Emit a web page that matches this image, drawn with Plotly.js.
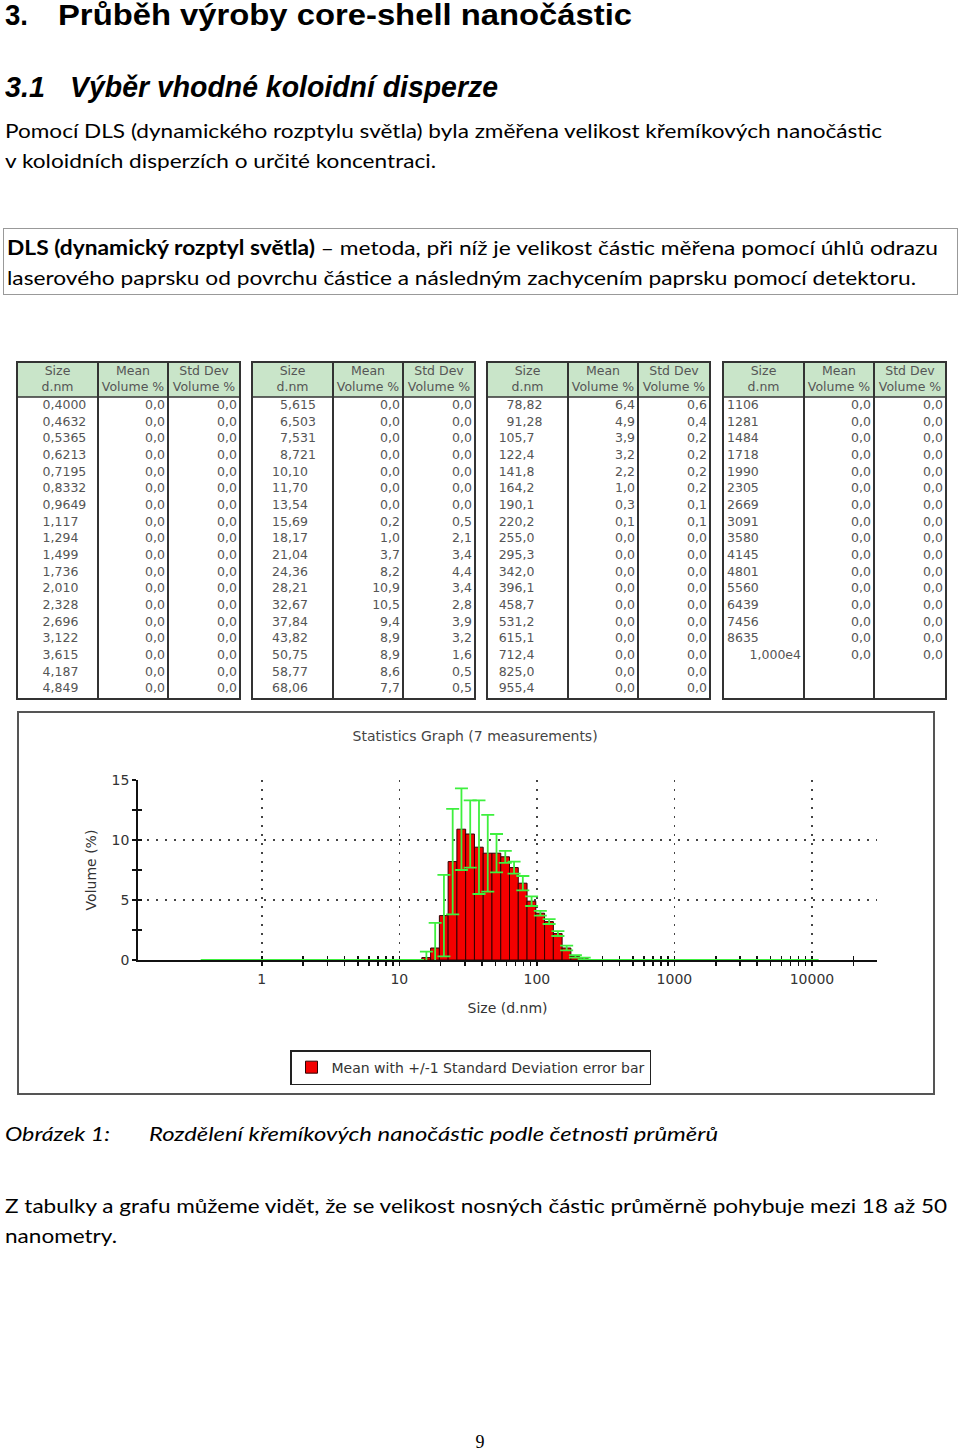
<!DOCTYPE html>
<html><head><meta charset="utf-8">
<script src="https://cdn.plot.ly/plotly-3.0.1.min.js"></script>
<style>
html,body{margin:0;padding:0;background:#fff;}
#page{position:relative;width:960px;height:1454px;overflow:hidden;background:#fff;}
.t{position:absolute;white-space:nowrap;transform-origin:0 50%;color:#000;}
.h1{font-family:"Liberation Sans",Arial,sans-serif;font-weight:bold;font-size:29px;line-height:29px;}
.h2{font-family:"Liberation Sans",Arial,sans-serif;font-weight:bold;font-style:italic;font-size:30px;line-height:30px;}
.p{font-family:Lato,"Open Sans",sans-serif;font-size:20px;line-height:20px;}
.pi{font-family:Lato,"Open Sans",sans-serif;font-size:20px;line-height:20px;font-style:italic;}
#box{position:absolute;left:3px;top:228px;width:953px;height:65px;border:1px solid #999;}
#pg{position:absolute;left:440px;width:80px;top:1433px;text-align:center;font-family:"Liberation Serif",serif;font-size:18px;line-height:18px;}
#table{position:absolute;left:0;top:358px;width:960px;height:346px;}
#chart{position:absolute;left:17px;top:711px;width:914px;height:380px;border:2px solid #555;}
</style></head>
<body><div id="page">
<span class="t h1" style="left:5px;top:1px" data-w="23">3.</span>
<span class="t h1" style="left:58px;top:1px" data-w="574">Průběh výroby core-shell nanočástic</span>
<span class="t h2" style="left:5px;top:72px" data-w="40">3.1</span>
<span class="t h2" style="left:70px;top:72px" data-w="428">Výběr vhodné koloidní disperze</span>
<span class="t p" style="left:5px;top:120px" data-w="877">Pomocí DLS (dynamického rozptylu světla) byla změřena velikost křemíkových nanočástic</span>
<span class="t p" style="left:5px;top:150px" data-w="431">v koloidních disperzích o určité koncentraci.</span>
<div id="box"></div>
<span class="t p" style="left:7px;top:237px" data-w="931"><b>DLS (dynamický rozptyl světla)</b> – metoda, při níž je velikost částic měřena pomocí úhlů odrazu</span>
<span class="t p" style="left:7px;top:267px" data-w="909">laserového paprsku od povrchu částice a následným zachycením paprsku pomocí detektoru.</span>
<div id="table"></div>
<div id="chart"></div>
<span class="t pi" style="left:5px;top:1123px" data-w="105">Obrázek 1:</span>
<span class="t pi" style="left:149px;top:1123px" data-w="569">Rozdělení křemíkových nanočástic podle četnosti průměrů</span>
<span class="t p" style="left:5px;top:1195px" data-w="942">Z tabulky a grafu můžeme vidět, že se velikost nosných částic průměrně pohybuje mezi 18 až 50</span>
<span class="t p" style="left:5px;top:1225px" data-w="112">nanometry.</span>
<div id="pg">9</div>
</div>
<script>
// ---------------- data ----------------
const sizes = [
  0.4000, 0.4632, 0.5365, 0.6213, 0.7195, 0.8332, 0.9649, 1.117, 1.294, 1.499, 1.736, 2.010, 2.328, 2.696, 3.122, 3.615, 4.187, 4.849,
  5.615, 6.503, 7.531, 8.721, 10.10, 11.70, 13.54, 15.69, 18.17, 21.04, 24.36, 28.21, 32.67, 37.84, 43.82, 50.75, 58.77, 68.06,
  78.82, 91.28, 105.7, 122.4, 141.8, 164.2, 190.1, 220.2, 255.0, 295.3, 342.0, 396.1, 458.7, 531.2, 615.1, 712.4, 825.0, 955.4,
  1106, 1281, 1484, 1718, 1990, 2305, 2669, 3091, 3580, 4145, 4801, 5560, 6439, 7456, 8635, 10000
];
const meanVolume = [
  0.0, 0.0, 0.0, 0.0, 0.0, 0.0, 0.0, 0.0, 0.0, 0.0, 0.0, 0.0, 0.0, 0.0, 0.0, 0.0, 0.0, 0.0,
  0.0, 0.0, 0.0, 0.0, 0.0, 0.0, 0.0, 0.2, 1.0, 3.7, 8.2, 10.9, 10.5, 9.4, 8.9, 8.9, 8.6, 7.7,
  6.4, 4.9, 3.9, 3.2, 2.2, 1.0, 0.3, 0.1, 0.0, 0.0, 0.0, 0.0, 0.0, 0.0, 0.0, 0.0, 0.0, 0.0,
  0.0, 0.0, 0.0, 0.0, 0.0, 0.0, 0.0, 0.0, 0.0, 0.0, 0.0, 0.0, 0.0, 0.0, 0.0, 0.0
];
const sdVolume = [
  0.0, 0.0, 0.0, 0.0, 0.0, 0.0, 0.0, 0.0, 0.0, 0.0, 0.0, 0.0, 0.0, 0.0, 0.0, 0.0, 0.0, 0.0,
  0.0, 0.0, 0.0, 0.0, 0.0, 0.0, 0.0, 0.5, 2.1, 3.4, 4.4, 3.4, 2.8, 3.9, 3.2, 1.6, 0.5, 0.5,
  0.6, 0.4, 0.2, 0.2, 0.2, 0.2, 0.1, 0.1, 0.0, 0.0, 0.0, 0.0, 0.0, 0.0, 0.0, 0.0, 0.0, 0.0,
  0.0, 0.0, 0.0, 0.0, 0.0, 0.0, 0.0, 0.0, 0.0, 0.0, 0.0, 0.0, 0.0, 0.0, 0.0, 0.0
];
const headerTop = ['Size', 'Mean', 'Std Dev'];
const headerBottom = ['d.nm', 'Volume %', 'Volume %'];
const xMajorTicks = [1, 10, 100, 1000, 10000];
const xMajorLabels = ['1', '10', '100', '1000', '10000'];
const xMinorTicks = [2,3,4,5,6,7,8,9, 20,30,40,50,60,70,80,90, 200,300,400,500,600,700,800,900,
                     2000,3000,4000,5000,6000,7000,8000,9000, 20000, 30000];
const yMajorTicks = [0, 5, 10, 15];
const yMajorLabels = ['0', '5', '10', '15'];
const yMinorTicks = [2.5, 7.5, 12.5];
const chartTitle = 'Statistics Graph (7 measurements)';
const legendLabel = 'Mean with +/-1 Standard Deviation error bar';

// ---------------- text fitting ----------------
function fitAll(){
  document.querySelectorAll('[data-w]').forEach(el=>{
    el.style.transform='none';
    const w = el.getBoundingClientRect().width;
    const t = +el.dataset.w;
    if (w > 0) el.style.transform = 'scaleX(' + (t / w) + ')';
  });
}
fitAll();
if (document.fonts && document.fonts.ready) document.fonts.ready.then(fitAll);

// ---------------- table ----------------
const rowsPerGroup = 18;
const groupLeft = [17, 252, 487, 723];
const colW = [81, 70, 72];
const commaOffset = [33.5, 36, 35.5, 0];
const rowH = 16.65, firstRowPx = 48, tableTopPx = 4, headerBotPx = 39, tableBotPx = 341, tableHpx = 346;
const pxToRow = p => (p - firstRowPx) / rowH;
const digitW = 0.636 * 12.5;
const fmtSize = v => v.toPrecision(4).replace('e+', 'e').replace('.', ',');
const fmtVal = v => v.toFixed(1).replace('.', ',');

const sx = [], sy = [], st = [], sp = [];
const mx = [], my = [], mt = [];
const dx = [], dy = [], dt = [];
sizes.forEach((s, i) => {
  const g = Math.floor(i / rowsPerGroup), r = i % rowsPerGroup, L = groupLeft[g];
  const lab = fmtSize(s);
  if (lab.indexOf('e') >= 0) { sx.push(L + colW[0] - 3); sp.push('middle left'); }
  else if (lab.indexOf(',') >= 0) { sx.push(L + commaOffset[g] - lab.split(',')[0].length * digitW); sp.push('middle right'); }
  else { sx.push(L + 4); sp.push('middle right'); }
  sy.push(r); st.push(lab);
  mx.push(L + colW[0] + colW[1] - 3); my.push(r); mt.push(fmtVal(meanVolume[i]));
  dx.push(L + colW[0] + colW[1] + colW[2] - 3); dy.push(r); dt.push(fmtVal(sdVolume[i]));
});
const hx = [], hy = [], ht = [];
groupLeft.forEach(L => {
  let c = L;
  for (let k = 0; k < 3; k++) {
    hx.push(c + colW[k] / 2, c + colW[k] / 2);
    hy.push(pxToRow(14), pxToRow(30));
    ht.push(headerTop[k], headerBottom[k]);
    c += colW[k];
  }
});
const tfont = {family: 'DejaVu Sans, sans-serif', size: 12.5, color: '#555'};
const tShapes = [];
groupLeft.forEach(L => {
  const R = L + colW[0] + colW[1] + colW[2];
  tShapes.push({type:'rect', xref:'x', yref:'y', x0:L, x1:R, y0:pxToRow(tableTopPx), y1:pxToRow(headerBotPx),
                fillcolor:'#c9e5c9', line:{width:0}, layer:'below'});
  tShapes.push({type:'rect', xref:'x', yref:'y', x0:L, x1:R, y0:pxToRow(tableTopPx), y1:pxToRow(tableBotPx),
                line:{color:'#333', width:2}});
  [L + colW[0], L + colW[0] + colW[1]].forEach(xx => tShapes.push({type:'line', xref:'x', yref:'y', x0:xx, x1:xx,
                y0:pxToRow(tableTopPx), y1:pxToRow(tableBotPx), line:{color:'#333', width:2}}));
  tShapes.push({type:'line', xref:'x', yref:'y', x0:L, x1:R, y0:pxToRow(headerBotPx), y1:pxToRow(headerBotPx),
                line:{color:'#333', width:1.5}});
});
const ttr = (x, y, t, pos) => ({type:'scatter', mode:'text', x:x, y:y, text:t, textposition:pos,
                                textfont:tfont, hoverinfo:'skip', showlegend:false, cliponaxis:false});
Plotly.newPlot('table', [
  ttr(hx, hy, ht, 'middle center'),
  ttr(sx, sy, st, sp),
  ttr(mx, my, mt, 'middle left'),
  ttr(dx, dy, dt, 'middle left')
], {
  width: 960, height: tableHpx, margin: {l:0, r:0, t:0, b:0},
  paper_bgcolor: 'rgba(0,0,0,0)', plot_bgcolor: 'rgba(0,0,0,0)',
  xaxis: {range: [0, 960], visible: false, fixedrange: true},
  yaxis: {range: [pxToRow(tableHpx), pxToRow(0)], visible: false, fixedrange: true},
  shapes: tShapes, showlegend: false
}, {staticPlot: true, displayModeBar: false});

// ---------------- chart ----------------
// bin edges at geometric midpoints between neighbouring size classes (log-spaced bins)
const lowEdge = sizes.map((s, i) => i > 0 ? Math.sqrt(sizes[i - 1] * s) : s * s / Math.sqrt(s * sizes[1]));
const highEdge = sizes.map((s, i) => i < sizes.length - 1 ? Math.sqrt(s * sizes[i + 1]) : s * s / Math.sqrt(sizes[i - 1] * s));
const barWidth = sizes.map((s, i) => highEdge[i] - lowEdge[i]);
const barOffset = sizes.map((s, i) => lowEdge[i] - s);

const axisColor = '#111';
const xRange = [Math.log10(0.1259), Math.log10(29700)];
const allXTicks = xMajorTicks.concat(xMinorTicks);
const allYTicks = yMajorTicks.concat(yMinorTicks);
Plotly.newPlot('chart', [
  {
    type: 'bar', x: sizes, y: meanVolume, name: legendLabel,
    width: barWidth, offset: barOffset,
    marker: {color: '#f40000', line: {color: '#300000', width: 1}},
    error_y: {type: 'data', array: sdVolume, visible: true, color: '#3ef03e', thickness: 1.8, width: 6.5},
    hoverinfo: 'skip'
  },
  {type: 'scatter', mode: 'none', x: [1], y: [0], xaxis: 'x2', yaxis: 'y2', showlegend: false, hoverinfo: 'skip'}
], {
  width: 914, height: 380,
  margin: {l: 119, r: 56, t: 67, b: 133},
  paper_bgcolor: '#fff', plot_bgcolor: '#fff',
  font: {family: 'DejaVu Sans, sans-serif', size: 14, color: '#333'},
  title: {text: chartTitle, font: {size: 14, color: '#444'}, xref: 'container', yref: 'container',
          x: 0.499, y: 0.9395, xanchor: 'center', yanchor: 'middle'},
  bargap: 0,
  xaxis: {
    type: 'log', range: xRange, fixedrange: true, automargin: false,
    tickmode: 'array', tickvals: xMajorTicks, ticktext: xMajorLabels,
    ticks: 'outside', ticklen: 4, tickwidth: 1.5, tickcolor: axisColor, ticklabelstandoff: 1,
    showline: true, linecolor: axisColor, linewidth: 1.8, zeroline: false,
    showgrid: true, gridcolor: '#444', gridwidth: 1.5, griddash: '2px,7px',
    minor: {tickmode: 'array', tickvals: xMinorTicks, ticks: 'outside', ticklen: 4, tickwidth: 1.5, tickcolor: axisColor, showgrid: false},
    layer: 'below traces',
    title: {text: 'Size (d.nm)', font: {size: 14, color: '#333'}, standoff: 18}
  },
  yaxis: {
    range: [0, 15], fixedrange: true, automargin: false,
    tickmode: 'array', tickvals: yMajorTicks, ticktext: yMajorLabels,
    ticks: 'outside', ticklen: 4, tickwidth: 1.5, tickcolor: axisColor,
    showline: true, linecolor: axisColor, linewidth: 1.8, zeroline: false,
    showgrid: true, gridcolor: '#444', gridwidth: 1.5, griddash: '2px,7px',
    minor: {tickmode: 'array', tickvals: yMinorTicks, ticks: 'outside', ticklen: 4, tickwidth: 1.5, tickcolor: axisColor, showgrid: false},
    layer: 'below traces',
    title: {text: 'Volume (%)', font: {size: 14, color: '#333'}, standoff: 12}
  },
  xaxis2: {
    type: 'log', range: xRange, overlaying: 'x', anchor: 'y2', fixedrange: true,
    tickmode: 'array', tickvals: allXTicks, ticks: 'inside', ticklen: 4, tickwidth: 1.5, tickcolor: axisColor,
    showticklabels: false, showgrid: false, showline: false, zeroline: false, layer: 'below traces'
  },
  yaxis2: {
    range: [0, 15], overlaying: 'y', anchor: 'x2', fixedrange: true,
    tickmode: 'array', tickvals: allYTicks, ticks: 'inside', ticklen: 4, tickwidth: 1.5, tickcolor: axisColor,
    showticklabels: false, showgrid: false, showline: false, zeroline: false, layer: 'below traces'
  },
  showlegend: true,
  legend: {xref: 'container', yref: 'container', x: 0.2965, y: 0.113, xanchor: 'left', yanchor: 'top', orientation: 'h',
           bordercolor: '#222', borderwidth: 1.5, bgcolor: '#fff', font: {size: 14, color: '#333'}}
}, {staticPlot: true, displayModeBar: false});
</script>
</body></html>
